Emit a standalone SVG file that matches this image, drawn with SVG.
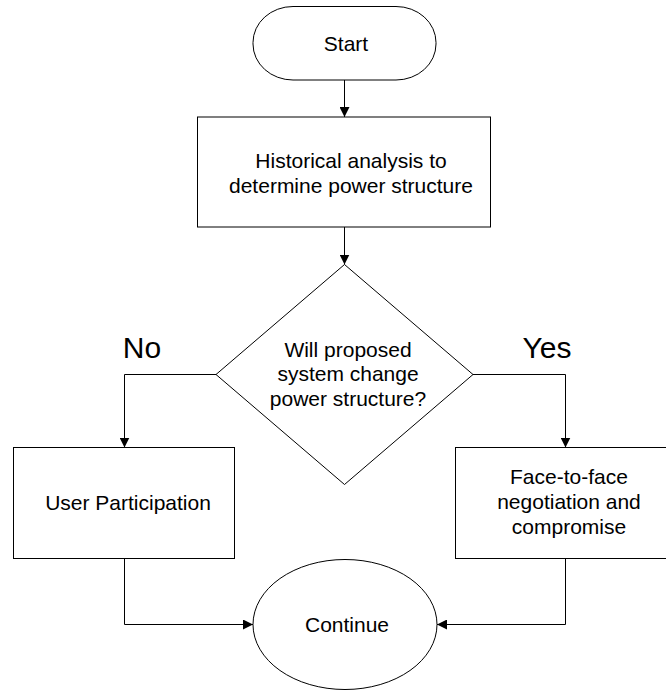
<svg xmlns="http://www.w3.org/2000/svg" width="666" height="690" viewBox="0 0 666 690">
<style>
.s{fill:#fff;stroke:#000;stroke-width:1}
.t{font-family:"Liberation Sans",Arial,sans-serif;font-size:21px;fill:#000;text-anchor:middle}
.l{font-family:"Liberation Sans",Arial,sans-serif;font-size:30px;fill:#000;text-anchor:middle}
.c{fill:none;stroke:#000;stroke-width:1}
</style>
<defs>
<marker id="a" markerWidth="11" markerHeight="10" refX="10" refY="5" orient="auto" markerUnits="userSpaceOnUse">
<path d="M0,0 L10,5 L0,10 Z" fill="#000"/>
</marker>
</defs>
<rect width="666" height="690" fill="#fff"/>
<g id="start">
<rect class="s" x="253" y="6.5" width="183" height="73.5" rx="40" ry="36"/>
<text class="t" x="346" y="51">Start</text>
</g>
<g id="analysis">
<rect class="s" x="197.5" y="117" width="293" height="110"/>
<text class="t" x="351" y="167.5">Historical analysis to</text>
<text class="t" x="351" y="192.5">determine power structure</text>
</g>
<g id="decision">
<polygon class="s" points="344.5,264.5 473,374.5 344.5,484.5 216,374.5"/>
<text class="t" x="348" y="357">Will proposed</text>
<text class="t" x="348" y="381">system change</text>
<text class="t" x="348" y="406">power structure?</text>
</g>
<g id="user">
<rect class="s" x="13.5" y="447.5" width="221" height="111"/>
<text class="t" x="128" y="510">User Participation</text>
</g>
<g id="negotiation">
<rect class="s" x="455.5" y="447.5" width="221" height="111"/>
<text class="t" x="569" y="484">Face-to-face</text>
<text class="t" x="569" y="509">negotiation and</text>
<text class="t" x="569" y="534">compromise</text>
</g>
<g id="continue">
<ellipse class="s" cx="345" cy="624.5" rx="92" ry="65"/>
<text class="t" x="347" y="631.5">Continue</text>
</g>
<g id="labels">
<text class="l" x="142" y="358">No</text>
<text class="l" x="547" y="358">Yes</text>
</g>
<g id="connectors">
<path class="c" d="M344.5,80 V117" marker-end="url(#a)"/>
<path class="c" d="M344.5,227 V264.5" marker-end="url(#a)"/>
<path class="c" d="M216,374.5 H124.5 V447.5" marker-end="url(#a)"/>
<path class="c" d="M473,374.5 H565.5 V447.5" marker-end="url(#a)"/>
<path class="c" d="M124.5,558.5 V624.5 H253" marker-end="url(#a)"/>
<path class="c" d="M565.5,558.5 V624.5 H437" marker-end="url(#a)"/>
</g>
</svg>
